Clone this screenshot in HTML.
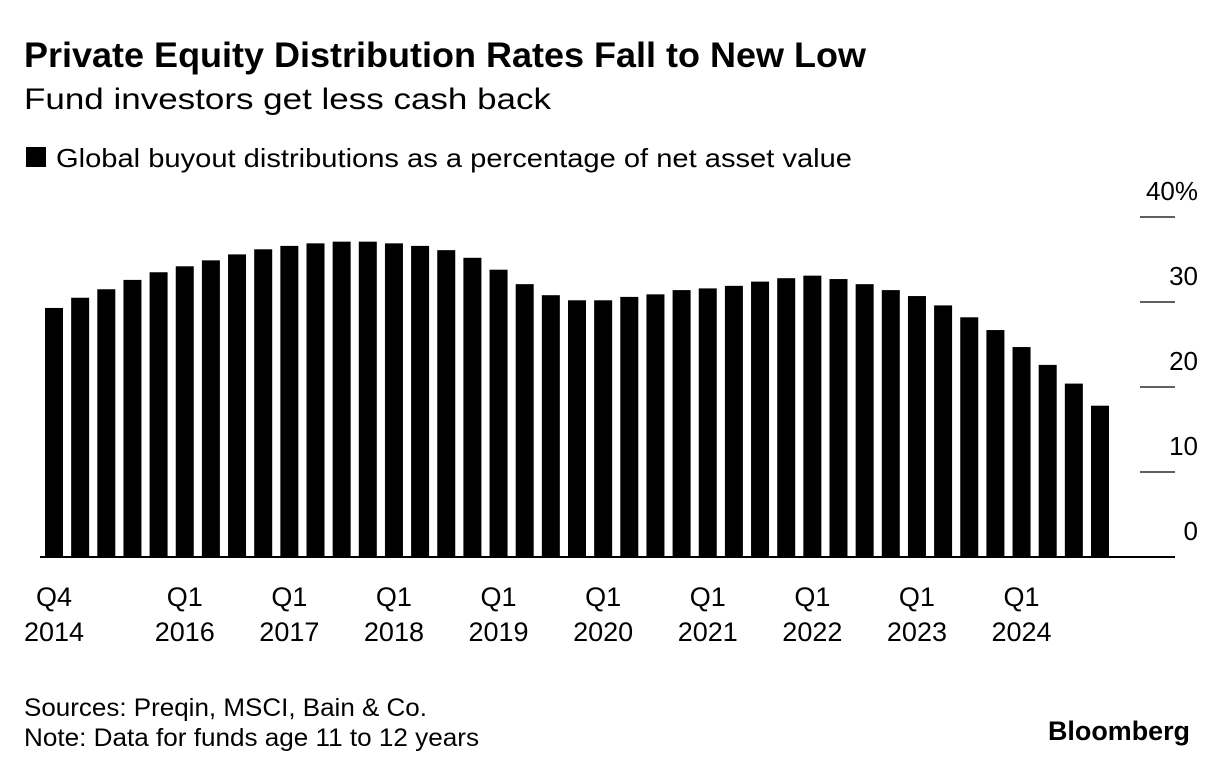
<!DOCTYPE html>
<html><head><meta charset="utf-8"><style>
body{margin:0;background:#fff;width:1226px;height:775px;overflow:hidden;font-family:"Liberation Sans",sans-serif;color:#000}
svg{position:absolute;left:0;top:0}
</style></head><body>
<svg width="1226" height="775">
<text x="24" y="67" font-size="35" font-weight="bold" textLength="842" lengthAdjust="spacingAndGlyphs">Private Equity Distribution Rates Fall to New Low</text>
<text x="24" y="109" font-size="30" textLength="527" lengthAdjust="spacingAndGlyphs">Fund investors get less cash back</text>
<rect x="26" y="147" width="20" height="20" fill="#000"/>
<text x="56" y="167" font-size="26" textLength="796" lengthAdjust="spacingAndGlyphs">Global buyout distributions as a percentage of net asset value</text>
<g id="bars"></g><g id="yaxis"></g><g id="xaxis"></g>
<text x="24" y="716" font-size="25" textLength="403" lengthAdjust="spacingAndGlyphs">Sources: Preqin, MSCI, Bain &amp; Co.</text>
<text x="24" y="746" font-size="25" textLength="455" lengthAdjust="spacingAndGlyphs">Note: Data for funds age 11 to 12 years</text>
<text x="1048" y="740" font-size="27" font-weight="bold" textLength="142" lengthAdjust="spacingAndGlyphs">Bloomberg</text>
</svg>
<script>
const values=[29.3,30.5,31.5,32.6,33.5,34.2,34.9,35.6,36.2,36.6,36.9,37.1,37.1,36.9,36.6,36.1,35.2,33.8,32.1,30.8,30.2,30.2,30.6,30.9,31.4,31.6,31.9,32.4,32.8,33.1,32.7,32.1,31.4,30.7,29.6,28.2,26.7,24.7,22.6,20.4,17.8];
const xLabelIdx=[0,5,9,13,17,21,25,29,33,37];
const xLabelTop=["Q4","Q1","Q1","Q1","Q1","Q1","Q1","Q1","Q1","Q1"];
const xLabelBottom=["2014","2016","2017","2018","2019","2020","2021","2022","2023","2024"];
const yTicks=[0,10,20,30,40];
const yTickLabels=["0","10","20","30","40%"];
const NS="http://www.w3.org/2000/svg";
const y0=557,pxPer=8.5,x0=54,step=26.15,bw=18;
const yS=v=>y0-v*pxPer, xS=i=>x0+i*step;
const bars=document.getElementById('bars');
values.forEach((v,i)=>{const r=document.createElementNS(NS,'rect');
r.setAttribute('x',xS(i)-bw/2);r.setAttribute('y',yS(v));r.setAttribute('width',bw);r.setAttribute('height',y0-yS(v));r.setAttribute('fill','#000');


bars.appendChild(r);});
const ya=document.getElementById('yaxis');
yTicks.forEach((t,k)=>{const y=yS(t);
const l=document.createElementNS(NS,'line');
l.setAttribute('x1',t===0?40:1140);l.setAttribute('x2',1175);l.setAttribute('y1',y);l.setAttribute('y2',y);l.setAttribute('stroke','#000');l.setAttribute('stroke-width',t===0?2:1.2);


ya.appendChild(l);
const tx=document.createElementNS(NS,'text');
tx.setAttribute('x',1198);tx.setAttribute('y',y-17);tx.setAttribute('text-anchor','end');tx.setAttribute('font-size','26');tx.textContent=yTickLabels[k];


ya.appendChild(tx);});
const xa=document.getElementById('xaxis');
xLabelIdx.forEach((i,k)=>{[[xLabelTop[k],606],[xLabelBottom[k],641]].forEach(([s,y])=>{
const tx=document.createElementNS(NS,'text');
tx.setAttribute('x',xS(i));tx.setAttribute('y',y);tx.setAttribute('text-anchor','middle');tx.setAttribute('font-size','27');tx.textContent=s;


xa.appendChild(tx);});});
</script>
</body></html>
